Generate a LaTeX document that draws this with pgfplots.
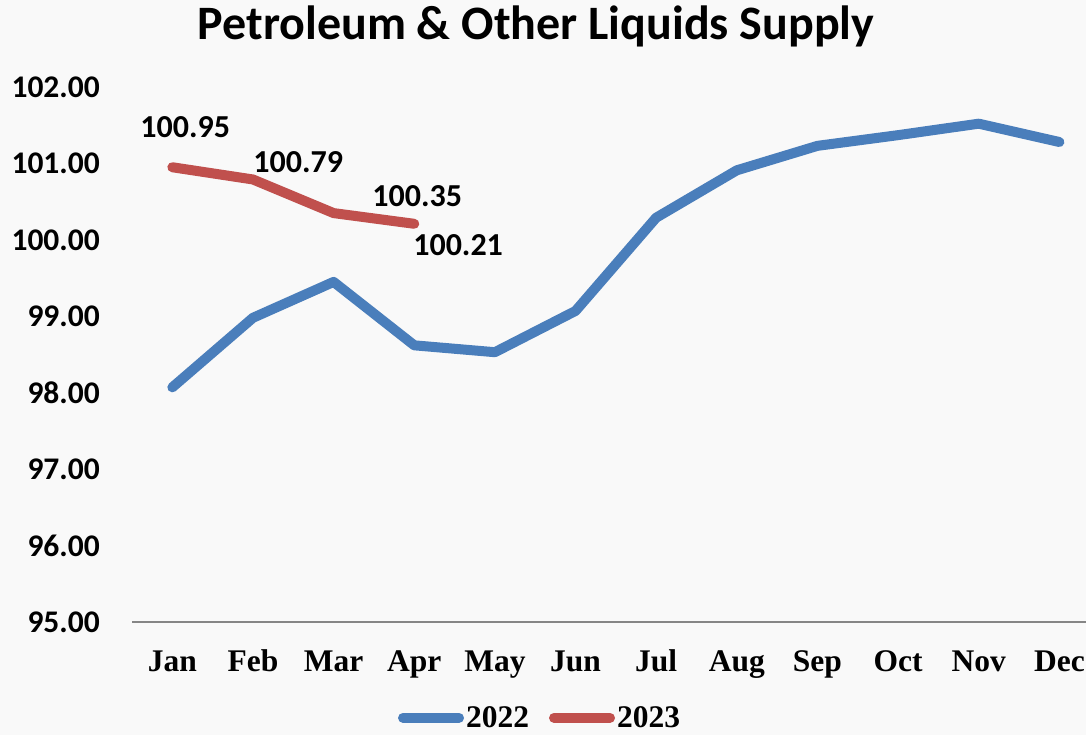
\documentclass[border=0pt]{standalone}
\usepackage{pgfplots}
\pgfplotsset{compat=1.18}
\usepackage{fontspec}
\setmainfont{Liberation Serif}
\newfontfamily\carlito{Carlito}
\definecolor{bg}{RGB}{249,249,249}
\definecolor{blueline}{RGB}{74,126,187}
\definecolor{redline}{RGB}{192,80,77}
\definecolor{axgray}{RGB}{134,134,134}
\begin{document}
\begin{tikzpicture}[x=1pt,y=1pt]
\path[use as bounding box] (0,0) rectangle (1086,735);
\fill[bg] (0,0) rectangle (1086,735);
\node[anchor=base, font=\carlito\bfseries\fontsize{48}{57}\selectfont, inner sep=0pt] at (536,695) {Petroleum \& Other Liquids Supply};
\begin{axis}[
  at={(132pt,113pt)}, anchor=south west,
  scale only axis, width=954pt, height=535pt,
  xmin=-0.5, xmax=11.33, ymin=95, ymax=102,
  clip=false,
  axis x line*=bottom, axis y line*=left,
  y axis line style={draw=none},
  x axis line style={draw=axgray, line width=2.5pt},
  major tick length=0pt,
  xtick={0,...,11},
  xticklabels={Jan,Feb,Mar,Apr,May,Jun,Jul,Aug,Sep,Oct,Nov,Dec},
  ytick={95,96,...,102},
  /pgf/number format/assume math mode=true,
  yticklabel style={/pgf/number format/.cd, fixed, fixed zerofill, precision=2, /tikz/.cd,
    font=\carlito\bfseries\fontsize{31.5}{37}\selectfont, anchor=east, inner sep=0pt, xshift=-32pt},
  xticklabel style={font=\bfseries\fontsize{31.5}{37}\selectfont, anchor=base, inner sep=0pt, yshift=-50pt},
  legend columns=2,
  legend style={at={(0.4277,-0.179)}, anchor=center, draw=none, fill=none,
    font=\bfseries\fontsize{31.5}{37}\selectfont,
    /tikz/every even column/.append style={column sep=18pt}},
  legend cell align=left,
  legend image code/.code={\draw[#1, line cap=round] (0pt,0pt) -- (56pt,0pt);},
]
\addplot[blueline, line width=10pt, line cap=round, line join=round] coordinates {
(0,98.07) (1,98.98) (2,99.45) (3,98.62) (4,98.53) (5,99.07) (6,100.29) (7,100.91) (8,101.23) (9,101.37) (10,101.52) (11,101.28)};
\addlegendentry{2022}
\addplot[redline, line width=10pt, line cap=round, line join=round] coordinates {
(0,100.95) (1,100.79) (2,100.35) (3,100.21)};
\addlegendentry{2023}
\begin{scope}[every node/.style={font=\carlito\bfseries\fontsize{32}{38}\selectfont, inner sep=0pt}]
\node at (axis cs:0.161,101.477) {100.95};
\node at (axis cs:1.561,101.019) {100.79};
\node at (axis cs:3.036,100.574) {100.35};
\node at (axis cs:3.544,99.933) {100.21};
\end{scope}
\end{axis}
\end{tikzpicture}
\end{document}
